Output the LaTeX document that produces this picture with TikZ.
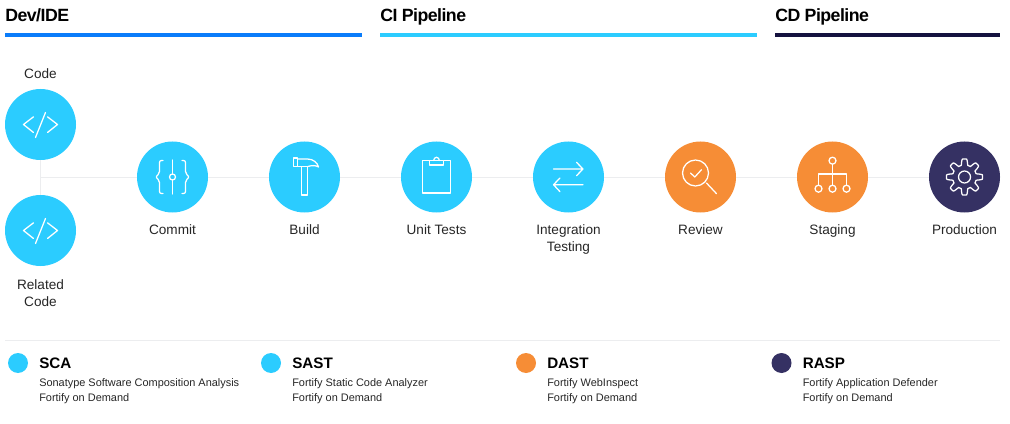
\documentclass[tikz,border=0pt]{standalone}
\usepackage{fontspec}
\setmainfont{Liberation Sans}
\newfontfamily\tightfont[LetterSpace=-3]{Liberation Sans}
\definecolor{skyc}{HTML}{2BCCFF}
\definecolor{orangec}{HTML}{F68D36}
\definecolor{navyc}{HTML}{353163}
\definecolor{devbar}{HTML}{0A7CFA}
\definecolor{cibar}{HTML}{2BCCFF}
\definecolor{cdbar}{HTML}{15123F}
\definecolor{linec}{HTML}{ECEDEF}
\definecolor{txt}{HTML}{262626}
\tikzset{
  x=0.75pt,y=-0.75pt,
  stage/.style={circle,minimum size=53.25pt,inner sep=0pt,draw=none},
  sky/.style={stage,fill=skyc},
  orng/.style={stage,fill=orangec},
  navy/.style={stage,fill=navyc},
  conn/.style={draw=linec,line width=0.7pt},
  bar/.style={line width=2.4pt},
  ico/.style={draw=white,line width=0.95pt,line cap=round,line join=round},
  head/.style={anchor=base west,inner sep=0pt,font=\fontsize{13.3}{16}\tightfont\bfseries,text=black},
  stagelabel/.style={anchor=north,inner sep=0pt,align=center,text=txt,font=\fontsize{10.2}{12.75}\selectfont,execute at begin node=\strut},
  dot/.style={circle,minimum size=15pt,inner sep=0pt},
  legt/.style={anchor=base west,inner sep=0pt,font=\fontsize{11.4}{14}\selectfont\bfseries,text=black},
  legs/.style={anchor=north west,inner sep=0pt,align=left,text=txt,font=\fontsize{8.2}{11.25}\selectfont,execute at begin node=\strut},
}
\begin{document}
\begin{tikzpicture}
\useasboundingbox (0,0) rectangle (1010,424);
% headers
\node[head] (h1) at (5,22) {Dev/IDE};
\node[head] (h2) at (380,22) {CI Pipeline};
\node[head] (h3) at (775,22) {CD Pipeline};
\draw[bar,devbar] (5,35) -- (362,35);
\draw[bar,cibar] (380,35) -- (757,35);
\draw[bar,cdbar] (775,35) -- (1000,35);
% stages
\node[sky] (code) at (40.5,124.5) {};
\node[sky] (related) at (40.5,230.5) {};
\node[sky] (commit) at (172.5,177) {};
\node[sky] (build) at (304.5,177) {};
\node[sky] (unit) at (436.5,177) {};
\node[sky] (integ) at (568.5,177) {};
\node[orng] (review) at (700.5,177) {};
\node[orng] (staging) at (832.5,177) {};
\node[navy] (prod) at (964.5,177) {};
% connectors
\coordinate (junction) at (40.5,177);
\draw[conn] (code) -- (related);
\draw[conn] (junction) -- (commit);
\draw[conn] (commit) -- (build);
\draw[conn] (build) -- (unit);
\draw[conn] (unit) -- (integ);
\draw[conn] (integ) -- (review);
\draw[conn] (review) -- (staging);
\draw[conn] (staging) -- (prod);
% labels
\node[stagelabel] (lcode) at (40.5,66) {Code};
\node[stagelabel] (lrel) at (40.5,279.5) {Related\\Code};
\node[stagelabel] (lcommit) at (172.5,222) {Commit};
\node[stagelabel] (lbuild) at (304.5,222) {Build};
\node[stagelabel] (lunit) at (436.5,222) {Unit Tests};
\node[stagelabel] (linteg) at (568.5,224) {Integration\\Testing};
\node[stagelabel] (lreview) at (700.5,222) {Review};
\node[stagelabel] (lstaging) at (832.5,222) {Staging};
\node[stagelabel] (lprod) at (964.5,222) {Production};
% icons: code
\foreach \n in {code,related}{
  \begin{scope}[shift={(\n.center)},ico]
    \draw (-7,-7.7) -- (-17,0) -- (-7,8);
    \draw (7,-7.7) -- (17,0) -- (7,8);
    \draw (5,-12) -- (-5,13);
  \end{scope}
}
% commit
\begin{scope}[shift={(commit.center)},ico]
  \draw (0,-17) -- (0,-3) (0,3) -- (0,17);
  \draw (0,0) circle[radius=3];
  \draw[rounded corners=1.5] (-9.5,-16.5) -- (-13,-16.5) -- (-13,-3.5) -- (-17,0) -- (-13,3.5) -- (-13,16.5) -- (-9.5,16.5);
  \draw[rounded corners=1.5] (9.5,-16.5) -- (13,-16.5) -- (13,-3.5) -- (17,0) -- (13,3.5) -- (13,16.5) -- (9.5,16.5);
\end{scope}
% build
\begin{scope}[shift={(build.center)},ico]
  \draw (-2.7,-10.5) rectangle (3.3,18);
  \draw (-11,-19) rectangle (-6.7,-10.5);
  \draw (-6.7,-18) -- (3,-18) .. controls (9,-18) and (13,-14) .. (14,-10) .. controls (11,-12) and (7,-11.5) .. (3.3,-10.5);
  \draw (-6.7,-10.5) -- (-2.7,-10.5);
\end{scope}
% unit tests
\begin{scope}[shift={(unit.center)},ico]
  \draw (-14,-16.5) rectangle (14,16);
  \draw[fill=skyc] (-7.3,-16.5) rectangle (7.3,-12);
  \draw (-2.8,-16.5) arc[start angle=180,end angle=0,x radius=2.8,y radius=-3.2];
\end{scope}
% integration
\begin{scope}[shift={(integ.center)},ico]
  \draw (-15,-8) -- (14.5,-8) (8,-14.7) -- (14.5,-8) -- (8,-1.3);
  \draw (14.5,7.7) -- (-15,7.7) (-8.5,1) -- (-15,7.7) -- (-8.5,14.7);
\end{scope}
% review
\begin{scope}[shift={(review.center)},ico]
  \draw (-5,-4) circle[radius=13];
  \draw (6,6) -- (16,16.7);
  \draw (-10,-4) -- (-5.7,0) -- (1,-7.3);
\end{scope}
% staging
\begin{scope}[shift={(staging.center)},ico]
  \draw (0,-16.3) circle[radius=3.5];
  \draw (0,-12.8) -- (0,8.2);
  \draw (-14,8.2) -- (-14,-3) -- (14,-3) -- (14,8.2);
  \draw (-14,11.7) circle[radius=3.5];
  \draw (0,11.7) circle[radius=3.5];
  \draw (14,11.7) circle[radius=3.5];
\end{scope}
% production
\begin{scope}[shift={(prod.center)},ico]
  \draw (0,0) circle[radius=6];
  \draw plot[domain=0:360,samples=161]
    ({(15+3*min(1,max(-1,1.9*cos(8*\x))))*cos(\x)},{(15+3*min(1,max(-1,1.9*cos(8*\x))))*sin(\x)}) -- cycle;
\end{scope}
% legend
\draw[conn] (5,340) -- (1000,340);
\node[dot,fill=skyc] (d1) at (18,363) {};
\node[dot,fill=skyc] (d2) at (271,363) {};
\node[dot,fill=orangec] (d3) at (526,363) {};
\node[dot,fill=navyc] (d4) at (781.5,363) {};
\node[legt] (t1) at (39,368.5) {SCA};
\node[legt] (t2) at (292,368.5) {SAST};
\node[legt] (t3) at (547,368.5) {DAST};
\node[legt] (t4) at (802.5,368.5) {RASP};
\node[legs] (s1) at (39,378) {Sonatype Software Composition Analysis\\Fortify on Demand};
\node[legs] (s2) at (292,378) {Fortify Static Code Analyzer\\Fortify on Demand};
\node[legs] (s3) at (547,378) {Fortify WebInspect\\Fortify on Demand};
\node[legs] (s4) at (802.5,378) {Fortify Application Defender\\Fortify on Demand};
\end{tikzpicture}
\end{document}
